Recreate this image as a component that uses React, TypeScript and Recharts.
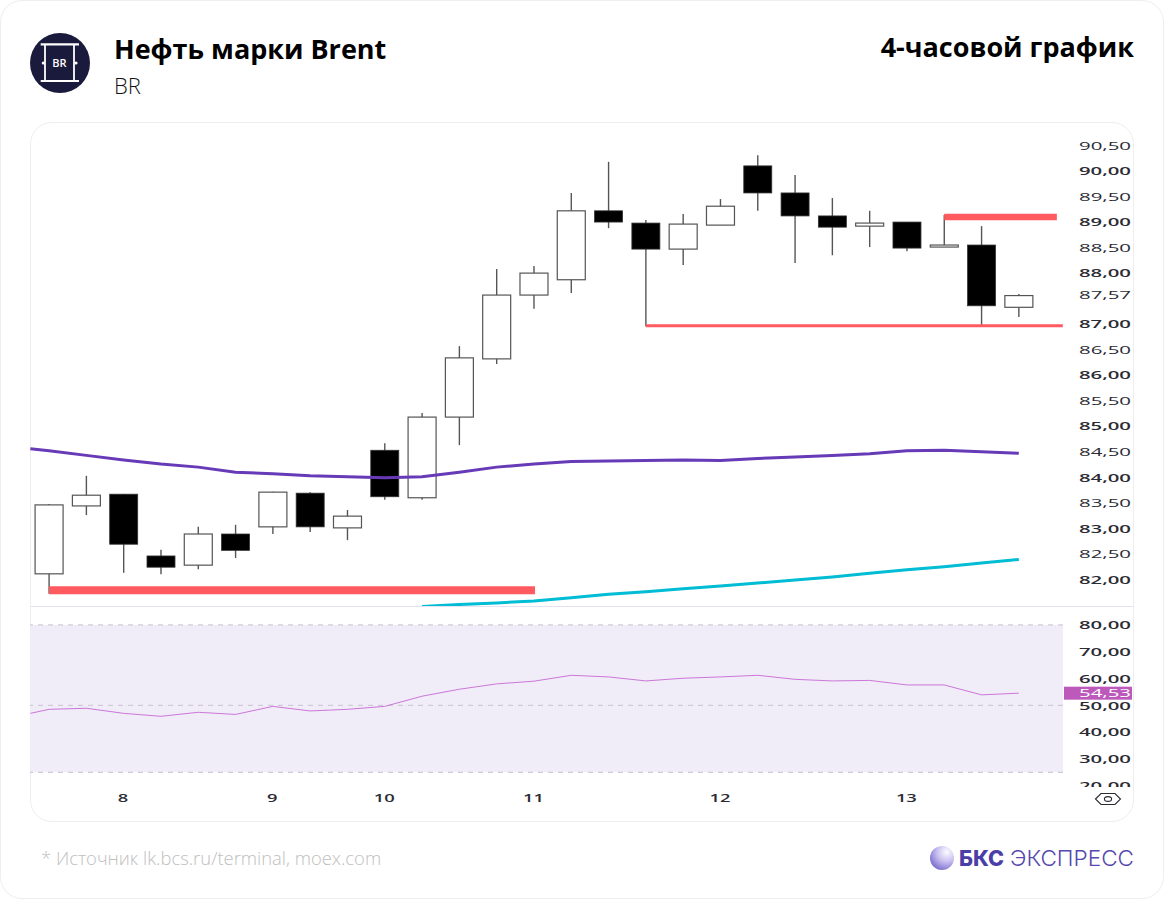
import { Bar, ComposedChart, Line, ReferenceArea, ReferenceLine, XAxis, YAxis } from "recharts";

const opens = [82.11, 83.44, 83.67, 82.46, 82.28, 82.89, 83.03, 83.69, 83.01, 84.53, 83.6, 85.18, 86.32, 87.57, 87.87, 89.22, 88.98, 88.47, 88.94, 90.1, 89.57, 89.12, 88.92, 89.0, 88.51, 88.55, 87.33];
const closes = [83.46, 83.65, 82.69, 82.24, 82.89, 82.57, 83.71, 83.03, 83.24, 83.62, 85.18, 86.34, 87.57, 88.0, 89.22, 89.0, 88.47, 88.96, 89.31, 89.57, 89.12, 88.9, 88.98, 88.49, 88.55, 87.36, 87.56];
const highs = [83.48, 84.03, 83.67, 82.58, 83.03, 83.07, 83.72, 83.71, 83.36, 84.67, 85.26, 86.57, 88.08, 88.14, 89.57, 90.18, 89.04, 89.16, 89.45, 90.31, 89.92, 89.47, 89.22, 89.0, 89.14, 88.92, 87.59];
const lows = [81.72, 83.26, 82.13, 82.1, 82.2, 82.42, 82.89, 82.93, 82.77, 83.56, 83.56, 84.63, 86.22, 87.3, 87.61, 88.88, 86.96, 88.16, 88.94, 89.22, 88.2, 88.35, 88.51, 88.43, 88.51, 86.98, 87.14];
const maFast = [84.52, 84.43, 84.34, 84.26, 84.2, 84.1, 84.07, 84.03, 84.01, 83.99, 84.01, 84.1, 84.2, 84.26, 84.31, 84.32, 84.33, 84.34, 84.33, 84.37, 84.4, 84.43, 84.46, 84.52, 84.53, 84.5, 84.47];
const maSlow = [null, null, null, null, null, null, null, null, null, null, 81.47, 81.51, 81.54, 81.58, 81.64, 81.71, 81.76, 81.82, 81.87, 81.93, 81.99, 82.05, 82.12, 82.19, 82.25, 82.32, 82.39];
const rsi = [48.5, 48.9, 47.0, 45.9, 47.4, 46.6, 49.6, 47.9, 48.5, 49.6, 53.4, 56, 58, 59, 61.2, 60.6, 59.1, 60.1, 60.6, 61.2, 59.7, 59.1, 59.3, 57.6, 57.6, 53.9, 54.53];

// the two indicator lines start at the left edge of the panel, before the first candle
const leadSlot = -0.5;
const leadMaFast = 84.56;
const leadRsi = 47.0;

const priceTicks = [90.5, 90, 89.5, 89, 88.5, 88, 87.57, 87, 86.5, 86, 85.5, 85, 84.5, 84, 83.5, 83, 82.5, 82];
const rsiTicks = [80, 70, 60, 50, 40, 30, 20, 54.53];
const lastRsi = 54.53;
const dayTicks = [2, 6, 9, 13, 18, 23];
const dayLabels = ["8", "9", "10", "11", "12", "13"];

// red levels: [first slot, last slot, price]
const supportLow = [0, 13.03, 81.79];
const supportMid = [16, 27.18, 86.97];
const resistance = [24, 27.02, 89.1];

const candleData = [
  { slot: leadSlot, maFast: leadMaFast, rsi: leadRsi },
  ...opens.map((open, i) => ({
    slot: i,
    open,
    close: closes[i],
    high: highs[i],
    low: lows[i],
    range: [lows[i], highs[i]],
    maFast: maFast[i],
    maSlow: maSlow[i],
    rsi: rsi[i],
  })),
];

const slotDomain = [-0.51, 27.185];

function Candle(props: any) {
  const { x, y, width, height, payload } = props;
  if (!payload || payload.open === undefined) return null;
  const cx = x + width / 2;
  const perUnit = height / (payload.high - payload.low);
  const top = y + (payload.high - Math.max(payload.open, payload.close)) * perUnit;
  const bottom = y + (payload.high - Math.min(payload.open, payload.close)) * perUnit;
  const up = payload.close >= payload.open;
  return (
    <g>
      <line x1={cx} x2={cx} y1={y} y2={y + height} stroke="#555" strokeWidth={1.4} />
      <rect
        x={cx - 14}
        y={top}
        width={28}
        height={Math.max(bottom - top, 1)}
        fill={up ? "#fff" : "#000"}
        stroke={up ? "#555" : "#333"}
        strokeWidth={up ? 1.2 : 0.8}
      />
    </g>
  );
}

function formatPrice(v: number) {
  return v.toFixed(2).replace(".", ",");
}

function PriceTick(props: any) {
  const { y, payload } = props;
  const v = payload.value;
  const isTag = v === lastRsi;
  return (
    <g>
      {isTag && <rect x={1064 - 30} y={y - 6.5} width={68} height={13} fill="#bd59bb" />}
      <text
        x={1079 - 30}
        y={y + 4.2}
        fontFamily="'Open Sans'"
        fontSize={11}
        fontWeight={Number.isInteger(v) ? 600 : 500}
        fill={isTag ? "#fff" : "#2b2b33"}
        textLength={52}
        lengthAdjust="spacingAndGlyphs"
      >
        {formatPrice(v)}
      </text>
    </g>
  );
}

function DayTick(props: any) {
  const { x, y, payload } = props;
  const label = dayLabels[dayTicks.indexOf(payload.value)];
  return (
    <text
      x={x - 0.5}
      y={y + 4}
      textAnchor="middle"
      fontFamily="'Open Sans'"
      fontSize={11}
      fontWeight={600}
      fill="#2b2b33"
      textLength={label.length * 10.5}
      lengthAdjust="spacingAndGlyphs"
    >
      {label}
    </text>
  );
}

function BrandIcon() {
  return (
    <svg width={62} height={62} style={{ position: "absolute", left: 29, top: 32 }}>
      <circle cx={31} cy={31} r={30} fill="#1a1a3c" />
      <g stroke="#fff" fill="none">
        <line x1={11.7} x2={50} y1={12.3} y2={12.3} strokeWidth={2.2} />
        <line x1={11.7} x2={50} y1={49} y2={49} strokeWidth={2.2} />
        <line x1={16} x2={16} y1={13} y2={49} strokeWidth={1.8} />
        <line x1={45} x2={45} y1={13} y2={49} strokeWidth={1.8} />
      </g>
      <circle cx={14.3} cy={31} r={1.6} fill="#fff" />
      <circle cx={47} cy={31} r={1.6} fill="#fff" />
      <text x={30.5} y={35} textAnchor="middle" fontFamily="'Open Sans'" fontWeight={600} fontSize={11} fill="#fff">
        BR
      </text>
    </svg>
  );
}

function BcsLogo() {
  return (
    <svg width={210} height={30} style={{ position: "absolute", left: 928, top: 843 }}>
      <defs>
        <radialGradient id="sphere" cx="0.7" cy="0.25" r="0.9">
          <stop offset="0" stopColor="#fdfcff" />
          <stop offset="0.45" stopColor="#c9c0f0" />
          <stop offset="1" stopColor="#6a5cc8" />
        </radialGradient>
      </defs>
      <circle cx={14} cy={15} r={12} fill="url(#sphere)" />
      <text x={31} y={23} fontFamily="Inter" fontWeight={800} fontSize={22} fill="#4b3ea6" textLength={45} lengthAdjust="spacingAndGlyphs">
        БКС
      </text>
      <text x={82} y={23} fontFamily="Inter" fontWeight={300} fontSize={22} fill="#5548ae" textLength={124} lengthAdjust="spacingAndGlyphs">
        ЭКСПРЕСС
      </text>
    </svg>
  );
}

const textBase = { position: "absolute", fontFamily: "'Open Sans'", whiteSpace: "nowrap" } as const;

export default function App() {
  return (
    <div style={{ position: "absolute", left: 0, top: 0, width: 1164, height: 900, background: "#fff", overflow: "hidden" }}>
      <div style={{ position: "absolute", left: 0, top: 0, width: 1162, height: 897, border: "1px solid #eeeeee", borderRadius: 22 }} />
      <BrandIcon />
      <div style={{ ...textBase, left: 114, top: 31, fontSize: 27, fontWeight: 700, color: "#000", lineHeight: "36px" }}>Нефть марки Brent</div>
      <div style={{ ...textBase, left: 114, top: 70, fontSize: 22, fontWeight: 300, color: "#111", lineHeight: "30px", opacity: 0.99 }}>BR</div>
      <div style={{ ...textBase, right: 30, top: 29, fontSize: 27, fontWeight: 700, color: "#000", lineHeight: "36px" }}>4-часовой график</div>

      <div style={{ position: "absolute", left: 30, top: 122, width: 1102, height: 698, border: "1px solid #eeeeee", borderRadius: 22 }} />

      <div style={{ position: "absolute", left: 30, top: 123 }}>
        <ComposedChart width={1104} height={483} data={candleData} margin={{ top: 0, right: 0, bottom: 0, left: 0 }}>
          <XAxis dataKey="slot" type="number" domain={slotDomain} allowDataOverflow hide />
          <YAxis
            orientation="right"
            width={71}
            domain={[81.48, 90.94]}
            allowDataOverflow
            ticks={priceTicks}
            interval={0}
            axisLine={false}
            tickLine={false}
            tick={<PriceTick />}
          />
          <Line dataKey="maFast" stroke="#673ab7" strokeWidth={3} dot={false} isAnimationActive={false} />
          <Line dataKey="maSlow" stroke="#00bcd4" strokeWidth={3} dot={false} isAnimationActive={false} />
          <Bar dataKey="range" barSize={28} shape={<Candle />} isAnimationActive={false} />
          <ReferenceLine segment={[{ x: supportLow[0], y: supportLow[2] }, { x: supportLow[1], y: supportLow[2] }]} stroke="#ff5a5f" strokeWidth={8} />
          <ReferenceLine segment={[{ x: supportMid[0], y: supportMid[2] }, { x: supportMid[1], y: supportMid[2] }]} stroke="#ff5a5f" strokeWidth={3} />
          <ReferenceLine segment={[{ x: resistance[0], y: resistance[2] }, { x: resistance[1], y: resistance[2] }]} stroke="#ff5a5f" strokeWidth={6.5} />
        </ComposedChart>
      </div>

      <div style={{ position: "absolute", left: 31, top: 606, width: 1102, height: 1, background: "#e2e2f0" }} />

      <div style={{ position: "absolute", left: 30, top: 606 }}>
        <ComposedChart width={1104} height={206} data={candleData} margin={{ top: 0, right: 0, bottom: 0, left: 0 }}>
          <XAxis
            dataKey="slot"
            type="number"
            domain={slotDomain}
            allowDataOverflow
            ticks={dayTicks}
            interval={0}
            height={22}
            axisLine={false}
            tickLine={false}
            tick={<DayTick />}
          />
          <YAxis
            orientation="right"
            width={71}
            domain={[18.4, 87.06]}
            allowDataOverflow
            ticks={rsiTicks}
            interval={0}
            axisLine={false}
            tickLine={false}
            tick={<PriceTick />}
          />
          <ReferenceArea y1={25} y2={80} fill="#f0ecf8" fillOpacity={1} stroke="none" />
          <ReferenceLine y={80} stroke="#c6c2ce" strokeDasharray="5 5" />
          <ReferenceLine y={50} stroke="#c6c2ce" strokeDasharray="5 5" />
          <ReferenceLine y={25} stroke="#c6c2ce" strokeDasharray="5 5" />
          <Line dataKey="rsi" stroke="#cc77d8" strokeWidth={1} dot={false} isAnimationActive={false} />
        </ComposedChart>
      </div>

      {/* the lowest rsi label is cut by the panel edge */}
      <div style={{ position: "absolute", left: 1070, top: 787, width: 62, height: 6, background: "#fff" }} />
      <svg width={28} height={14} style={{ position: "absolute", left: 1094, top: 792 }}>
        <path d="M1.5 7 L7 1.5 H21 L26.5 7 L21 12.5 H7 Z" fill="none" stroke="#2b2b33" strokeWidth={1.1} />
        <ellipse cx={14} cy={7} rx={3.6} ry={2.4} fill="none" stroke="#2b2b33" strokeWidth={1.1} />
      </svg>

      <div style={{ ...textBase, left: 41, top: 845, fontSize: 18.4, fontWeight: 300, color: "#c0c0c0", lineHeight: "26px", opacity: 0.99 }}>* Источник lk.bcs.ru/terminal, moex.com</div>
      <BcsLogo />
    </div>
  );
}
